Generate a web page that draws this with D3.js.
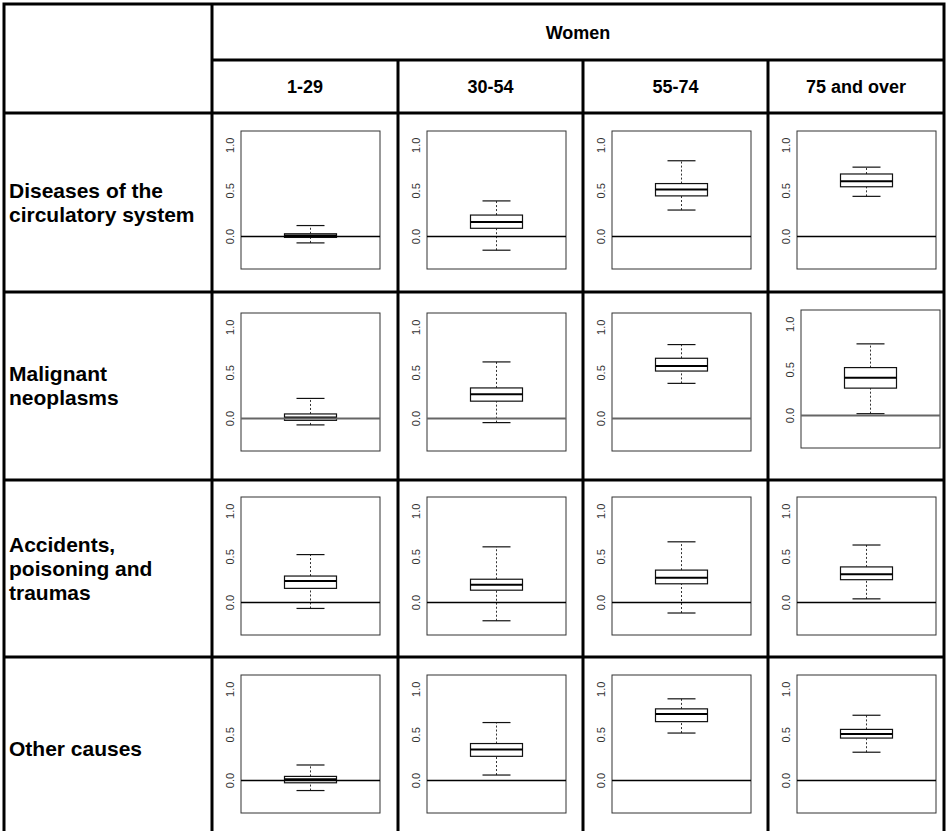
<!DOCTYPE html>
<html>
<head>
<meta charset="utf-8">
<script src="https://cdn.jsdelivr.net/npm/d3@7"></script>
<style>
  body { margin: 0; background: #fff; }
  svg { display: block; font-family: 'Liberation Sans', Arial, Helvetica, sans-serif; }
</style>
</head>
<body>
<figure style="margin:0"></figure>
<script>
const ageGroups = ['1-29', '30-54', '55-74', '75 and over']
const causes = [
  ['Diseases of the', 'circulatory system'],
  ['Malignant', 'neoplasms'],
  ['Accidents,', 'poisoning and', 'traumas'],
  ['Other causes']
]

// [lower whisker, q1, median, q3, upper whisker] per age group
const circulatory = [
  [-0.07, -0.01, 0.01, 0.03, 0.12],
  [-0.15, 0.09, 0.16, 0.235, 0.39],
  [0.29, 0.445, 0.515, 0.58, 0.83],
  [0.44, 0.545, 0.605, 0.685, 0.76]
]
const neoplasms = [
  [-0.07, -0.02, 0.01, 0.05, 0.22],
  [-0.045, 0.19, 0.265, 0.335, 0.62],
  [0.385, 0.52, 0.575, 0.66, 0.81],
  [0.02, 0.30, 0.415, 0.525, 0.785]
]
const accidents = [
  [-0.065, 0.155, 0.235, 0.29, 0.525],
  [-0.2, 0.135, 0.195, 0.255, 0.61],
  [-0.115, 0.205, 0.27, 0.355, 0.665],
  [0.04, 0.25, 0.31, 0.39, 0.63]
]
const otherCauses = [
  [-0.11, -0.025, 0.015, 0.045, 0.17],
  [0.06, 0.265, 0.34, 0.405, 0.635],
  [0.52, 0.645, 0.73, 0.785, 0.895],
  [0.31, 0.465, 0.51, 0.56, 0.715]
]
const stats = [circulatory, neoplasms, accidents, otherCauses]

const yLim = [-0.3, 1.1]
const yTicks = [0, 0.5, 1]

const width = 946
const height = 831

// table grid
const colX = [4, 212, 398, 583, 768, 944]
const headY = [4, 60, 113]
const rowY = [113, 292, 480, 657, 845]

const frameW = 139
const frameH = 138
const frameDx = 29
const frameDy = [18, 21, 17, 18]
const boxW = 52
const capW = 28

const pad = (yLim[1] - yLim[0]) * 0.04
const y = d3.scaleLinear()
  .domain([yLim[0] - pad, yLim[1] + pad])
  .range([frameH, 0])

const svg = d3.select('figure').append('svg')
  .attr('width', width)
  .attr('height', height)

svg.append('rect')
  .attr('width', width)
  .attr('height', height)
  .attr('fill', '#fff')

// header text
svg.append('text')
  .attr('x', (colX[1] + colX[5]) / 2)
  .attr('y', (headY[0] + headY[1]) / 2 + 1)
  .attr('text-anchor', 'middle')
  .attr('dominant-baseline', 'central')
  .attr('font-weight', 'bold')
  .attr('font-size', 18)
  .text('Women')

svg.append('g')
  .selectAll('text')
  .data(ageGroups)
  .join('text')
  .attr('x', (d, i) => (colX[i + 1] + colX[i + 2]) / 2)
  .attr('y', (headY[1] + headY[2]) / 2)
  .attr('text-anchor', 'middle')
  .attr('dominant-baseline', 'central')
  .attr('font-weight', 'bold')
  .attr('font-size', 18)
  .text(d => d)

// row labels (the source type is a little wider than Arial)
const lineH = 24
causes.forEach((lines, r) => {
  const mid = (rowY[r] + rowY[r + 1]) / 2
  const cy = r === 3 ? 749 : mid
  svg.append('text')
    .attr('transform', 'translate(9,0) scale(1.05,1)')
    .attr('font-weight', 'bold')
    .attr('font-size', 20)
    .selectAll('tspan')
    .data(lines)
    .join('tspan')
    .attr('x', 0)
    .attr('y', (d, i) => cy + (i - (lines.length - 1) / 2) * lineH)
    .attr('dominant-baseline', 'central')
    .text(d => d)
})

// panels
stats.forEach((row, r) => {
  row.forEach((s, c) => {
    const [lo, q1, med, q3, hi] = s
    const cx = frameW / 2
    // the 'Malignant neoplasms / 75 and over' picture sits slightly off in the source
    const nudge = r === 1 && c === 3 ? [4, -3] : [0, 0]
    const g = svg.append('g')
      .attr('transform', `translate(${colX[c + 1] + frameDx + nudge[0]},${rowY[r] + frameDy[r] + nudge[1]})`)

    g.append('rect')
      .attr('width', frameW)
      .attr('height', frameH)
      .attr('fill', 'none')
      .attr('stroke', '#333')
      .attr('stroke-width', 1)

    g.selectAll('.tick')
      .data(yTicks)
      .join('text')
      .attr('class', 'tick')
      .attr('transform', d => `translate(-11,${y(d)}) rotate(-90)`)
      .attr('text-anchor', 'middle')
      .attr('dominant-baseline', 'central')
      .attr('font-size', 11)
      .attr('fill', '#333')
      .text(d3.format('.1f'))

    // whiskers
    g.selectAll('.whisker')
      .data([[lo, q1], [q3, hi]])
      .join('line')
      .attr('x1', cx)
      .attr('x2', cx)
      .attr('y1', d => y(d[0]))
      .attr('y2', d => y(d[1]))
      .attr('stroke', '#333')
      .attr('stroke-dasharray', '2,2')

    g.selectAll('.cap')
      .data([lo, hi])
      .join('line')
      .attr('x1', cx - capW / 2)
      .attr('x2', cx + capW / 2)
      .attr('y1', d => y(d))
      .attr('y2', d => y(d))
      .attr('stroke', '#111')
      .attr('stroke-width', 1.2)

    g.append('rect')
      .attr('x', cx - boxW / 2)
      .attr('y', y(q3))
      .attr('width', boxW)
      .attr('height', y(q1) - y(q3))
      .attr('fill', '#fff')
      .attr('stroke', '#111')
      .attr('stroke-width', 1.2)

    g.append('line')
      .attr('x1', cx - boxW / 2)
      .attr('x2', cx + boxW / 2)
      .attr('y1', y(med))
      .attr('y2', y(med))
      .attr('stroke', '#000')
      .attr('stroke-width', 2)

    // reference line at zero
    g.append('line')
      .attr('x1', 0)
      .attr('x2', frameW)
      .attr('y1', y(0))
      .attr('y2', y(0))
      .attr('stroke', r === 1 ? '#666' : '#000')
      .attr('stroke-width', r === 1 ? 2 : 1.3)
  })
})

// table rules
const rules = svg.append('g')
  .attr('stroke', '#000')
  .attr('stroke-width', 3)

rules.append('rect')
  .attr('x', colX[0])
  .attr('y', headY[0])
  .attr('width', colX[5] - colX[0])
  .attr('height', rowY[4] - headY[0])
  .attr('fill', 'none')

rules.selectAll('.v')
  .data(colX.slice(1, 5))
  .join('line')
  .attr('x1', d => d)
  .attr('x2', d => d)
  .attr('y1', (d, i) => i === 0 ? headY[0] : headY[1])
  .attr('y2', rowY[4])

rules.append('line')
  .attr('x1', colX[1])
  .attr('x2', colX[5])
  .attr('y1', headY[1])
  .attr('y2', headY[1])

rules.selectAll('.h')
  .data(rowY.slice(0, 4))
  .join('line')
  .attr('x1', colX[0])
  .attr('x2', colX[5])
  .attr('y1', d => d)
  .attr('y2', d => d)
</script>
</body>
</html>
